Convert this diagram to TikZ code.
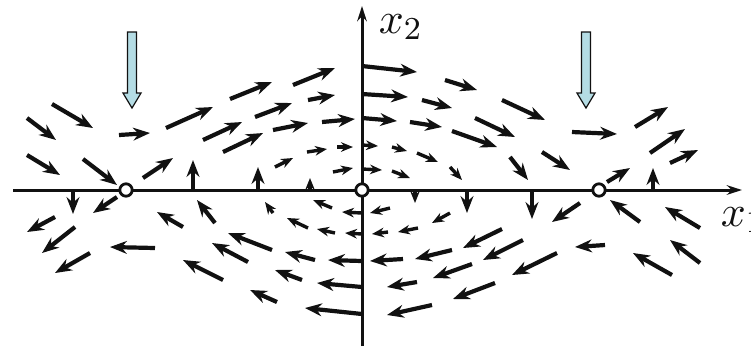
\documentclass[tikz,border=0pt]{standalone}
\usetikzlibrary{arrows.meta}
\definecolor{phaseInk}{HTML}{111111}
\definecolor{phaseBlue}{HTML}{B4DCE4}
\tikzset{
  every picture/.style={font=\fontsize{11}{13}\selectfont, text=phaseInk},
  phase axis/.style={draw=phaseInk, line width=0.75pt},
  phase vec/.style={-{Stealth[length=4.2pt,width=3.2pt]},
    draw=phaseInk, line width=1.05pt, line cap=butt},
  phase small/.style={-{Stealth[length=3pt,width=2.4pt]},
    draw=phaseInk, line width=0.85pt, line cap=butt},
  phase eq/.style={circle, draw=phaseInk, fill=white, line width=0.7pt,
    minimum size=3.1pt, inner sep=0pt},
  phase mark/.style={draw=phaseInk, line width=0.3pt, fill=phaseBlue}
}

\begin{document}
\begin{tikzpicture}[x=0.25pt,y=-0.25pt]
  \useasboundingbox (0,0) rectangle (751,346);
  % axes
  \draw[phase axis,-{Stealth[length=3.8pt,width=2.4pt]}] (13,190) -- (742,190);
  \draw[phase axis,-{Stealth[length=3.8pt,width=2.4pt]}] (362,346) -- (362,6);
  \node[anchor=base west, inner sep=0pt] (xone) at (720,226) {$x_1$};
  \node[anchor=base west, inner sep=0pt] (xtwo) at (378,33) {$x_2$};
  % field, long vectors
  \foreach \xa/\ya/\xb/\yb in {
    52/104/93/128, 27/118/56/140, 27/155/60/175, 83/159/117/185,
    119/135/150/133, 166/128/213/107, 230/99/272/82, 293/85/335/68,
    203/140/242/122, 223/152/263/133, 255/117/292/103, 273/130/308/123,
    308/100/335/95, 322/122/355/119, 143/178/173/158,
    193/190/193/160, 258/190/258/167,
    73/190/73/214, 117/197/93/213, 55/217/27/232, 75/227/42/253,
    90/253/55/273, 155/248/110/247, 183/227/157/212, 215/223/197/200,
    272/250/228/233, 248/262/212/243, 223/280/183/260, 277/302/250/290,
    315/260/285/252, 302/280/275/270, 362/261/328/260, 362/287/317/283,
    362/314/305/308,
    362/66/417/72, 445/80/477/90, 362/94/408/97, 422/100/452/108,
    502/100/545/120, 362/118/397/121, 410/122/442/127, 475/118/515/137,
    452/131/497/147, 572/132/617/134, 510/157/528/180, 542/152/570/170,
    635/127/668/107, 650/153/685/129, 670/163/698/150, 607/182/630/168,
    653/190/653/168, 467/190/467/213, 532/190/532/219,
    580/203/552/222, 640/222/610/200, 700/228/665/207, 700/263/670/240,
    672/275/633/253, 605/245/575/247, 557/253/512/275, 523/240/483/260,
    502/229/463/248, 495/283/453/299, 432/305/387/315, 472/264/433/278,
    452/250/415/259, 417/282/387/287, 403/259/370/261}
    \draw[phase vec] (\xa,\ya) -- (\xb,\yb);
  % field, short vectors
  \foreach \xa/\ya/\xb/\yb in {
    310/190/310/178, 275/167/293/158, 307/152/327/149, 337/147/353/147,
    333/172/353/168, 273/213/265/202, 332/208/313/200, 362/213/342/212,
    308/228/287/218, 335/233/317/229, 362/234/345/233,
    362/145/378/146, 392/147/407/151, 417/153/438/162, 362/169/382/170,
    392/171/410/178, 450/167/462/180, 415/190/415/203,
    390/208/370/213, 388/232/372/234, 418/228/398/232, 450/213/432/223}
    \draw[phase small] (\xa,\ya) -- (\xb,\yb);
  % equilibria
  \node[phase eq] (saddleL) at (126,190) {};
  \node[phase eq] (center) at (362,190) {};
  \node[phase eq] (saddleR) at (599,190) {};
  % markers
  \foreach \mx in {132,586}
    \draw[phase mark] (\mx-4.5,32) -- ++(9,0) -- ++(0,61) -- ++(4.5,0)
      -- (\mx,108) -- (\mx-9,93) -- ++(4.5,0) -- cycle;
\end{tikzpicture}
\end{document}
